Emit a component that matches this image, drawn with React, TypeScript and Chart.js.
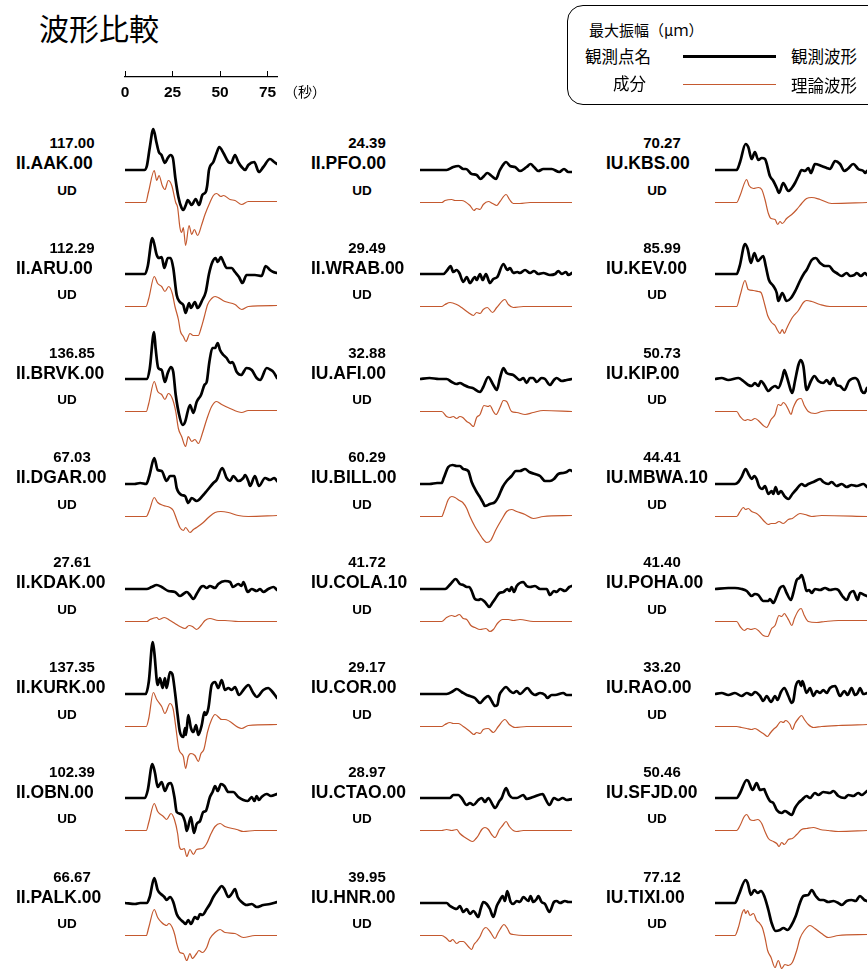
import React, { useEffect, useRef } from "react";
import { Chart, registerables } from "chart.js";

Chart.register(...registerables);

// ---------- text / table data ----------
const TITLE = "波形比較";
const LEGEND_AMP = "最大振幅（μｍ）";
const LEGEND_STATION = "観測点名";
const LEGEND_COMP = "成分";
const LEGEND_OBS = "観測波形";
const LEGEND_SYN = "理論波形";
const TIME_UNIT = "（秒）";
const SCALE_TICKS = [0, 25, 50, 75];
const TIME_MIN = 0;
const TIME_MAX = 80;
const COMPONENT = "UD";

const STATIONS = [
  "II.AAK.00", "II.ARU.00", "II.BRVK.00", "II.DGAR.00", "II.KDAK.00", "II.KURK.00", "II.OBN.00", "II.PALK.00",
  "II.PFO.00", "II.WRAB.00", "IU.AFI.00", "IU.BILL.00", "IU.COLA.10", "IU.COR.00", "IU.CTAO.00", "IU.HNR.00",
  "IU.KBS.00", "IU.KEV.00", "IU.KIP.00", "IU.MBWA.10", "IU.POHA.00", "IU.RAO.00", "IU.SFJD.00", "IU.TIXI.00",
];
const MAX_AMP = [
  "117.00", "112.29", "136.85", "67.03", "27.61", "137.35", "102.39", "66.67",
  "24.39", "29.49", "32.88", "60.29", "41.72", "29.17", "28.97", "39.95",
  "70.27", "85.99", "50.73", "44.41", "41.40", "33.20", "50.46", "77.12",
];

// ---------- waveforms: [time (s), displacement (display units)] ----------
const AAK_OBS = [[0,0],[10.2,0],[11.5,4],[13,22],[14.9,41],[16.5,28],[17.8,18],[19.2,15],[21,7],[22.5,12],[23.9,15],[25.2,12],[26.5,-8],[28.1,-27],[29.8,-38],[30.7,-40],[32,-35],[33,-30],[35.1,-35],[37.2,-29],[39,-35],[40.7,-25],[42.5,-22],[43.3,-15],[44.2,0],[46.5,8],[48.2,17],[49.6,23],[51.8,17],[54.4,8],[55.8,7],[57.9,15],[59.6,8],[61.4,3],[63.2,0],[64.9,5],[68,8],[70.5,-2],[72.8,3],[76.3,11],[78.5,8],[80,6]];
const AAK_SYN = [[0,0],[10.9,0],[12.3,10],[15.4,32],[16.7,22],[17.9,27],[19.6,17],[21,13],[22.8,22],[24.6,17],[26.7,0],[27.7,-5],[28.9,-25],[29.8,-30],[30.7,-25],[31.9,-43],[33.7,-23],[35.1,-32],[36.5,-27],[38.2,-33],[40.4,-22],[42.1,-12],[44.7,0],[46.5,7],[48.2,9],[50.5,6],[51.8,7],[55.3,3],[57.9,2],[61.4,-2],[64.9,1],[80,1]];
const ARU_OBS = [[0,0],[10.5,0],[12,8],[14.4,36],[16.7,19],[17.9,16],[19.3,17],[20.7,6],[22.5,16],[24,16],[25.4,6],[27.2,-21],[28.9,-28],[30.7,-31],[31.9,-39],[33.7,-29],[34.7,-34],[36.8,-28],[38.2,-34],[40.7,-26],[42.5,-18],[44.2,0],[46,12],[47.7,16],[48.8,12],[50.5,17],[51.8,12],[53.5,6],[56.1,6],[57.9,2],[60,-3],[61.8,-9],[64,-1],[68.4,-1],[71.9,-2],[74,8],[76.3,4],[78.1,2],[80,1]];
const ARU_SYN = [[0,0],[11,0],[12.5,8],[15.4,30],[17.2,23],[19.3,20],[21,15],[23,20],[24.9,13],[26.3,0],[28.1,-13],[29.2,-25],[30.7,-30],[32.1,-35],[34.2,-27],[35.9,-29],[38.6,-29],[40,-22],[41.5,-12],[43.5,2],[45.6,8],[47.4,10],[52.6,5],[57.9,2],[61.4,-3],[64.9,0],[80,1]];
const BRVK_OBS = [[0,0],[11.4,0],[13,10],[15.3,47],[16.1,31],[17.5,11],[19.3,9],[21,-3],[22.5,6],[24.2,12],[25.4,7],[26.7,-16],[28.9,-39],[30.4,-46],[31.6,-43],[34.2,-26],[36,-34],[37.7,-23],[40,-16],[41.8,-6],[43,-3],[44.4,17],[46,31],[47.4,31],[48.8,36],[50,29],[51.8,24],[53.5,21],[55.3,16],[56.5,17],[58.8,7],[61.1,4],[64,11],[66.7,9],[69.3,1],[71.1,-1],[74.6,11],[76.8,9],[78.1,7],[80,1]];
const BRVK_SYN = [[0,0],[11.2,0],[12.5,8],[15.4,30],[17.2,20],[19.3,17],[21,12],[22.8,18],[24.9,13],[26.7,0],[28.1,-17],[29.8,-25],[31.9,-35],[33.3,-25],[35.1,-30],[36.8,-28],[38.6,-32],[40.7,-22],[43,-8],[45.6,5],[48.2,10],[50.9,7],[55.3,3],[61.4,-1],[64.9,1],[80,1]];
const DGAR_OBS = [[0,0],[5,0],[8,1],[11.2,0],[12.8,8],[15.4,26],[17.2,14],[19.3,13],[21.9,3],[23.7,8],[26,8],[27.2,-4],[29.8,-11],[31.6,-12],[33.3,-19],[35.1,-14],[37.7,-17],[41.2,-11],[43,-7],[46.5,1],[48.2,4],[51.2,16],[53.5,6],[55.3,3],[57,8],[59.6,3],[62.3,6],[63.2,9],[64.9,3],[65.8,-2],[68.4,8],[70.5,-2],[73.7,6],[76.3,4],[78.6,6],[80,3]];
const DGAR_SYN = [[0,0],[11.2,0],[12.8,6],[15.4,19],[17.2,14],[20.2,11],[23.7,9],[25.4,6],[27.2,-3],[28.9,-11],[30.7,-14],[31.9,-11],[34.2,-16],[36,-13],[37.7,-11],[41.2,-6],[43.9,-1],[47.4,4],[50.5,5],[54.4,4],[59.6,1],[64.9,0],[80,1]];
const KDAK_OBS = [[0,0],[11.4,0],[14,2],[16.7,4],[19.3,2],[22.8,-2],[26.3,-3],[28.9,-7],[30.7,-5],[32.5,-3],[34.2,-6],[36,-10],[37.7,-5],[40,2],[41.2,3],[43,1],[44.7,3],[47.4,1],[49.1,5],[52.6,8],[55.3,7],[56.8,2],[59.6,5],[61.4,3],[62.3,7],[64.6,-3],[66.7,0],[69.3,-2],[71.1,0],[72.8,-3],[75.4,0],[78.1,2],[80,-1]];
const KDAK_SYN = [[0,0],[11.4,0],[13.2,2],[16.7,4],[17.9,2],[20.7,4],[23.7,1],[26.3,-2],[28.9,-5],[31.6,-7],[33.7,-4],[35.5,-5],[37.7,-8],[40,-4],[42.1,1],[44.7,3],[49.1,1],[52.6,1],[59.6,0],[80,0]];
const KURK_OBS = [[0,0],[10.9,0],[12.5,12],[14.6,52],[15.4,42],[17.2,9],[18.4,16],[19.8,6],[21,16],[21.9,6],[23.7,22],[24.9,20],[26.3,2],[27.7,-21],[28.9,-38],[30.7,-43],[31.6,-34],[32.1,-41],[33.3,-21],[34.7,-34],[36,-38],[37.4,-31],[38.6,-41],[40.4,-31],[41.8,-18],[42.5,-21],[43.9,-14],[45.6,9],[47.4,12],[49.1,6],[50.9,14],[52.6,4],[54.4,6],[56.1,4],[57.9,7],[60,-1],[62.3,4],[64.9,9],[67.5,1],[69.3,-3],[72.8,4],[75.4,6],[77.2,3],[80,-4]];
const KURK_SYN = [[0,0],[11.2,0],[12.5,8],[14.9,34],[16.7,27],[19.3,20],[21,13],[23.7,23],[25.4,17],[26.7,0],[28.4,-23],[30.7,-30],[31.9,-42],[33.3,-30],[34.7,-27],[36.8,-29],[38.6,-35],[40,-27],[41.5,-23],[43.5,-5],[45.6,7],[47.4,12],[50.9,7],[52.6,7],[61.4,-2],[64.9,1],[80,2]];
const OBN_OBS = [[0,0],[10.5,0],[12,8],[14.4,34],[15.8,25],[17.2,11],[19.3,16],[21,7],[22.8,14],[24.2,15],[26,1],[27.2,-14],[29.5,-16],[31.6,-24],[32.5,-33],[34.7,-19],[36.3,-35],[37.7,-26],[39.5,-23],[41.2,-14],[42.5,-13],[44.7,1],[46.1,6],[47.4,12],[48.8,7],[50.5,14],[52.3,12],[54.4,6],[57,6],[59.6,1],[62.3,-2],[64.6,-3],[66.7,1],[68.1,-3],[69.3,2],[70.5,-2],[71.9,1],[74.6,4],[76.8,2],[80,4]];
const OBN_SYN = [[0,0],[11.2,0],[12.5,8],[15.4,27],[17.2,19],[20.2,14],[21.9,11],[24.2,17],[26,11],[27.7,-3],[28.6,-16],[29.8,-19],[31.2,-18],[32.5,-26],[34.2,-19],[36,-24],[37.7,-19],[40.7,-18],[43,-13],[45.3,-3],[47.4,4],[50,7],[52.6,4],[58.8,1],[62.3,-1],[68.4,0],[80,0]];
const PALK_OBS = [[0,0],[5.3,-1],[8,0],[11.4,0],[13,6],[15.4,25],[17.2,13],[18.9,9],[20.7,6],[21.9,3],[23.7,6],[25.4,1],[27.2,-11],[28.9,-16],[30.7,-19],[31.9,-21],[33.3,-17],[34.7,-21],[36.8,-14],[38.2,-16],[39.5,-11],[40.7,-12],[43,-6],[44.7,-1],[46.5,6],[49.1,13],[50.9,17],[52.3,14],[54.4,6],[56.1,9],[57.9,14],[59.3,6],[61.4,1],[64,-2],[66.7,-1],[69.3,-4],[72.8,-2],[76.3,-1],[80,1]];
const PALK_SYN = [[0,0],[11.2,0],[12.5,8],[15.4,26],[17.2,18],[19.3,13],[21.9,10],[23.1,12],[24.9,8],[26.3,0],[27.2,-8],[28.9,-17],[30.7,-18],[32.5,-25],[34.2,-18],[35.4,-23],[37.7,-18],[38.9,-15],[40.7,-17],[43,-12],[44.7,-3],[47.4,3],[50,6],[52.6,3],[57.9,2],[62.3,-2],[68.4,0],[80,0]];

const PFO_OBS = [[0,0],[14,0],[17.5,3],[20.2,4],[22.8,1],[24.2,1],[27.2,-4],[29.8,-5],[31.9,-9],[33.7,-6],[35.4,-3],[37.7,-6],[40,-9],[41.8,-1],[43,3],[45.3,8],[47.4,4],[50,3],[52.6,-1],[56.1,3],[58.2,6],[60,3],[62.3,-1],[64.9,1],[69.3,1],[73.3,-2],[75.8,1],[78.1,-2],[80,-2]];
const PFO_SYN = [[0,0],[11.4,0],[13.2,2],[16.7,3],[18.4,2],[21.9,2],[26.3,-3],[28.4,-8],[29.8,-6],[31.6,-7],[33.3,-2],[36,1],[38.2,-1],[40.4,-3],[42.1,1],[45.3,8],[47.1,3],[49.1,-1],[52.6,-1],[57.9,0],[80,0]];
const WRAB_OBS = [[0,0],[12.3,0],[14.4,4],[16.1,8],[17.5,2],[19.3,4],[20.7,1],[22.8,-8],[24.6,-3],[26.3,-9],[28.9,-3],[29.8,-6],[31.6,0],[33,-6],[34.7,0],[36.8,-9],[38.6,-5],[40.7,-3],[43.9,10],[46,4],[47.4,6],[49.1,1],[51.2,2],[52.6,1],[55.3,4],[57.9,1],[60,3],[62.3,0],[64.9,1],[68.4,-1],[71.1,0],[72.8,3],[74.6,0],[76.8,2],[78.1,-1],[80,1]];
const WRAB_SYN = [[0,0],[11.4,0],[13.2,2],[15.8,4],[19.3,2],[21.9,-1],[25.4,-6],[28.1,-9],[29.8,-6],[31.6,-7],[33.3,-3],[35.4,-1],[38.2,-6],[40.4,-1],[44.7,7],[46.5,2],[49.1,-1],[54.4,0],[80,0]];
const AFI_OBS = [[0,0],[5,1],[10,0],[14,0],[16.7,-3],[19.3,-5],[21,-4],[23.1,-6],[25.4,-8],[27.7,-9],[31.6,-13],[33.3,-8],[35.9,2],[38.6,-6],[40.4,-11],[42.1,1],[43.9,11],[45.6,6],[49.1,4],[52.6,-1],[54.4,1],[56.1,-4],[57.9,1],[59.6,1],[61.4,-3],[64,1],[65.8,0],[68.4,-6],[70.5,-1],[71.9,1],[74.6,-2],[77.2,-1],[80,0]];
const AFI_SYN = [[0,0],[11.4,0],[14,-5],[15.8,-6],[17.5,-5],[19.3,-7],[21,-5],[22.5,-6],[24.6,-10],[26.3,-12],[28.1,-15],[29.8,-6],[31.6,-3],[33.7,6],[35.9,5],[36.8,6],[38.6,0],[40,-3],[42.1,4],[43.9,11],[45.6,10],[48.2,0],[50.9,-1],[55.3,-3],[59.6,-1],[64.9,1],[80,0]];
const BILL_OBS = [[0,0],[5,0],[9,1],[11.4,1],[12.5,6],[14.9,17],[17.2,19],[19.3,18],[21,18],[22.8,15],[25.4,13],[27.2,2],[29.5,-7],[31.2,-12],[33,-18],[34.2,-22],[36.8,-20],[39.5,-18],[41.2,-13],[43.5,-3],[45.6,3],[48.2,8],[50.5,13],[52.6,13],[55.3,15],[57.5,12],[60.5,10],[63.2,8],[65.8,3],[68.4,3],[70.5,5],[72.8,10],[75.4,11],[77.2,12],[78.9,14],[80,13]];
const BILL_SYN = [[0,0],[11.4,0],[12.8,6],[14.9,17],[16.7,20],[18.4,19],[20.7,16],[22.5,14],[24.6,8],[26.3,0],[28.9,-10],[31.2,-17],[33.3,-23],[35.1,-26],[37.2,-24],[40,-13],[43,-3],[45.6,5],[48.2,7],[50.9,5],[55.3,2],[59.6,-2],[64.9,0],[80,1]];
const COLA_OBS = [[0,0],[13.2,0],[16.1,5],[18.8,10],[21,5],[22.8,4],[24.6,2],[26,2],[27.2,-2],[28.9,-10],[30.7,-11],[31.9,-10],[34.2,-13],[36.5,-18],[37.7,-15],[39.5,-10],[41.8,-4],[43.9,-3],[46,0],[47.1,-2],[48.2,2],[49.5,-3],[50.9,3],[54.4,7],[56.1,3],[57.9,2],[60.5,3],[63.2,0],[66.7,0],[68.4,-6],[70.5,-2],[71.9,-3],[73.7,0],[76.3,-2],[78.6,2],[80,3]];
const COLA_SYN = [[0,0],[11.4,0],[14,4],[16.7,6],[18.4,5],[20.7,7],[22.8,3],[24.6,2],[26.8,-4],[28.9,-6],[31.6,-8],[34.7,-7],[36.8,-10],[38.6,-8],[40.7,-2],[43.5,2],[46.5,2],[49.1,1],[52.6,2],[59.6,0],[80,0]];
const COR_OBS = [[0,0],[14,0],[17.5,3],[19.3,5],[21.9,2],[24.6,-1],[26.3,-2],[28.9,-4],[31.6,-9],[33.7,-5],[35.9,-2],[37.7,-7],[39.5,-12],[40.7,-11],[41.8,-1],[43,3],[45.3,7],[47.4,3],[49.1,1],[50.9,3],[52.6,0],[56.5,6],[58.8,1],[60.5,-1],[63.2,1],[65.8,-1],[67,-4],[69.3,-1],[71.1,-1],[75.4,1],[77.2,-1],[80,-1]];
const COR_SYN = [[0,0],[11.4,0],[13.2,2],[15.8,4],[17.5,3],[20.2,3],[22.8,0],[26.3,-5],[28.4,-8],[29.8,-6],[31.6,-7],[33.3,-3],[35.9,-2],[38.6,-6],[41.2,0],[44.7,7],[47,2],[50,-1],[56.1,0],[80,0]];
const CTAO_OBS = [[0,0],[15.8,0],[17.5,3],[20.2,3],[21.9,0],[24.6,-7],[26.3,-5],[28.1,-7],[30.7,-2],[32.5,0],[34.2,-4],[35.9,0],[38.6,-8],[39.5,-10],[41.8,-3],[43,0],[45.3,10],[47,3],[48.8,0],[50.9,0],[54.4,3],[56.1,-1],[59.6,1],[64.6,4],[65.8,0],[68.1,-7],[70.5,0],[72.8,-2],[75.1,0],[77.2,-2],[80,-1]];
const CTAO_SYN = [[0,0],[11.4,0],[14,1],[16.7,0],[19.3,1],[21,-3],[23.7,-7],[25.4,-9],[27.7,-11],[29.5,-8],[30.7,-5],[32.5,1],[34.2,3],[36,1],[37.7,-4],[39.5,-7],[41.8,1],[43.5,5],[45.3,9],[47,4],[49.1,0],[50.9,-1],[54.4,0],[80,0]];
const HNR_OBS = [[0,0],[14,0],[15.8,-3],[19.3,-6],[21,-3],[22.8,-9],[24.6,-6],[26.3,-11],[28.1,-8],[30.7,-14],[31.9,-6],[33.3,1],[35.1,-1],[36.8,-6],[38.6,-14],[40.4,-3],[41.8,2],[43.5,7],[44.7,2],[45.9,12],[47.7,1],[49.1,-1],[50.9,2],[52.6,1],[54.4,6],[57,2],[58.2,7],[59.6,1],[61.4,4],[62.3,7],[64,1],[65.8,-1],[68.1,-9],[70.5,1],[71.9,2],[73.7,0],[76.3,2],[78.1,1],[80,1]];
const HNR_SYN = [[0,0],[11.4,0],[14,-3],[15.8,-6],[17.2,-4],[19.3,-8],[21,-6],[22.8,-6],[25.4,-11],[27.2,-14],[28.4,-9],[29.8,-6],[31.6,-1],[33.3,6],[34.7,8],[36.8,4],[39.5,-3],[40.9,2],[42.1,6],[44.2,11],[46,7],[47.4,2],[49.1,1],[54.4,0],[80,0]];

const KBS_OBS = [[0,0],[11.4,0],[13.2,8],[16.1,26],[17.5,23],[19.3,11],[21,18],[22.8,10],[24.6,12],[26.3,11],[28.9,-6],[30.7,-11],[32.5,-18],[33.7,-23],[35.9,-13],[38.6,-21],[40.4,-18],[42.1,-13],[43.9,-6],[45.6,0],[47.4,-1],[49.1,2],[50.5,-3],[52.6,6],[56.1,4],[58.8,2],[60.5,1],[63.2,9],[65.8,6],[68.1,-1],[69.8,1],[72.8,6],[75.4,1],[78.1,-1],[79.1,-3],[80,-1]];
const KBS_SYN = [[0,0],[11.4,0],[13.2,7],[16.7,23],[17.9,17],[20.2,14],[22.8,15],[24.6,13],[26.3,3],[28.1,-11],[29.5,-16],[31.6,-17],[33,-22],[34.2,-19],[35.4,-21],[37.7,-16],[40.4,-12],[43,-7],[45.6,-1],[48.2,4],[50.9,5],[55.3,3],[61.4,-1],[80,0]];
const KEV_OBS = [[0,0],[11.4,0],[13,8],[15.8,30],[17.2,25],[18.9,11],[20.7,21],[22.5,13],[25.4,18],[26.7,8],[28.4,-6],[30.7,-12],[32.5,-19],[33.3,-27],[35.4,-19],[37.7,-27],[40,-24],[42.5,-16],[44.7,-7],[47,1],[48.2,4],[50.9,14],[53,16],[55.3,11],[57.9,8],[60,8],[62.3,3],[64,1],[66.7,-2],[69.3,1],[71.1,-2],[73.3,-1],[74.6,1],[76.8,-2],[78.9,1],[80,-1]];
const KEV_SYN = [[0,0],[11.4,0],[13.2,11],[15.8,26],[17.5,17],[20.2,16],[22.8,15],[24.2,14],[26.3,1],[27.7,-9],[29.8,-16],[31.6,-19],[33,-24],[34.2,-27],[35.4,-23],[36.5,-27],[37.7,-22],[40.7,-11],[43.9,-4],[46.5,4],[48.2,6],[50.9,5],[55.3,2],[60.5,0],[80,0]];
const KIP_OBS = [[0,0],[3.5,1],[7,-1],[12.3,1],[14.9,-2],[17.5,-6],[19.3,-7],[21,-4],[22.8,-7],[24.2,-2],[26,-6],[28.1,-12],[29.8,-9],[31.6,-7],[33.3,-9],[35.4,1],[36.5,9],[37.7,3],[40,-12],[40.7,-14],[42.1,-2],[43.9,14],[45.1,19],[46.5,13],[48.2,-11],[50.5,-2],[52.3,3],[54.4,-2],[57,-4],[58.8,-1],[60.5,-5],[62.3,1],[64,-6],[65.8,-7],[68.1,-11],[70.5,-2],[73.7,1],[75.4,-2],[77.2,-12],[78.6,-14],[80,-9]];
const KIP_SYN = [[0,0],[11.4,0],[13.2,-5],[15.8,-9],[17.2,-8],[18.9,-9],[21,-7],[22.8,-9],[25.4,-14],[27.2,-16],[29.5,-8],[31.6,-3],[33.3,7],[34.7,6],[35.9,9],[37.2,7],[38.6,2],[40,-3],[41.2,4],[43.5,12],[45.3,13],[47,6],[49.1,0],[52.6,-2],[56.1,0],[61.4,1],[80,1]];
const MBWA_OBS = [[0,0],[10.5,0],[12.3,2],[14,7],[16.1,15],[17.9,9],[19.3,5],[20.7,8],[21.9,5],[23.1,-2],[24.9,-5],[26.3,-2],[28.1,-10],[29.8,-7],[30.7,-10],[31.9,-3],[33.3,-10],[34.7,-7],[36.5,-12],[38.6,-15],[40.7,-10],[43,-5],[45.6,0],[47.4,-2],[49.1,0],[51.8,2],[55.3,5],[57,2],[59.6,0],[61.4,2],[64,-2],[66.7,0],[69.3,-3],[71.9,-1],[74.6,-2],[78.1,0],[80,-3]];
const MBWA_SYN = [[0,0],[11.4,0],[13.2,5],[14.9,9],[16.1,7],[17.5,8],[19.3,5],[21.9,3],[23.7,0],[26,-5],[28.1,-8],[29.5,-7],[31.6,-7],[33.7,-5],[35.9,-7],[38.6,-3],[40.7,-2],[44.7,3],[47.4,2],[50.9,0],[56.1,1],[80,0]];
const POHA_OBS = [[0,0],[7,1],[10.5,1],[14,0],[16.7,-2],[19.3,-7],[21,-5],[22.8,-6],[25.4,-12],[28.1,-12],[28.9,-10],[30.7,-14],[32.5,-7],[34.2,1],[35.9,3],[37.7,-4],[40,-11],[41.2,-4],[43,9],[44.4,11],[45.6,14],[47,6],[48.2,-2],[49.5,-1],[50.9,-4],[52.6,0],[55.3,-1],[57.9,1],[60.5,-1],[63.2,0],[64.9,-1],[67,-7],[69.3,-11],[71.1,-4],[72.8,-2],[75.1,-11],[76.3,-4],[78.6,-6],[80,-7]];
const POHA_SYN = [[0,0],[11.4,0],[13.2,-5],[15.4,-9],[17.2,-7],[18.9,-8],[21,-7],[22.8,-9],[25.4,-14],[27.7,-15],[29.8,-7],[31.6,-4],[33.7,6],[35.1,5],[36.5,8],[37.7,5],[38.9,1],[40.4,-4],[41.8,3],[43.9,11],[45.3,13],[47,6],[49.1,0],[53.5,-1],[57.9,0],[64.9,1],[80,1]];
const RAO_OBS = [[0,0],[3.5,1],[7,-1],[10.5,1],[14,-2],[16.7,1],[19.3,-1],[21,2],[23.7,-2],[25.4,-7],[27.2,-2],[29.5,-8],[31.6,-2],[32.9,-6],[34.7,2],[36.5,6],[38.6,-2],[40.4,-9],[41.2,-7],[42.5,8],[44.2,13],[45.3,8],[46,13],[48.2,1],[50,6],[51.8,-2],[53.5,3],[55.3,1],[57,4],[58.8,1],[60.5,6],[63.2,8],[65.8,-2],[68.1,3],[69.8,-1],[71.9,6],[73.7,-1],[75.1,1],[76.3,6],[78.1,0],[80,1]];
const RAO_SYN = [[0,0],[11.4,0],[14,-1],[16.7,-2],[19.3,-3],[21,-2],[23.7,-5],[25.4,-7],[27.7,-10],[28.9,-7],[30.7,-3],[32.5,0],[34.7,5],[35.9,4],[37.2,6],[39.5,2],[40.7,-3],[42.1,3],[43.9,8],[45.6,11],[47,7],[49.1,2],[51.8,-1],[56.1,0],[64.9,1],[80,2]];
const SFJD_OBS = [[0,0],[11.4,0],[13.2,5],[16.7,18],[17.5,17],[19.8,8],[21.9,15],[23.7,8],[25.9,9],[26.3,7],[28.9,-3],[30.7,-5],[32.5,-12],[35.1,-15],[36.8,-13],[38.6,-15],[40.4,-17],[42.1,-10],[43.9,-5],[45.6,-2],[48.2,2],[50,0],[52.6,5],[54.4,3],[57,6],[60.5,5],[62.3,7],[64.9,2],[68.1,0],[70.2,3],[72.8,2],[75.4,5],[77.2,3],[80,7]];
const SFJD_SYN = [[0,0],[11.4,0],[13.2,5],[15.4,14],[16.7,16],[18.4,11],[20.2,10],[22.5,11],[24.6,7],[26.3,-1],[28.1,-8],[30.7,-11],[32.5,-13],[33.7,-16],[35.1,-12],[36.5,-14],[38.6,-9],[40.7,-8],[43,-4],[45.6,1],[48.2,2],[51.8,3],[55.3,1],[59.6,0],[64.9,-1],[80,0]];
const TIXI_OBS = [[0,0],[10.5,0],[12.5,8],[16.1,23],[17.2,20],[18.9,8],[20.7,13],[22.5,10],[24.2,12],[25.9,7],[28.1,-7],[29.8,-20],[31.9,-28],[34.2,-27],[36,-25],[38.2,-27],[40,-23],[42.5,-13],[44.7,0],[46.5,7],[49.1,8],[50.9,13],[53,7],[55.3,3],[57,3],[59.6,1],[62.3,2],[64.9,0],[66.7,-2],[69.3,2],[71.9,3],[74,2],[76.3,7],[78.6,3],[80,2]];
const TIXI_SYN = [[0,0],[10.5,0],[12.3,8],[14.4,23],[15.4,26],[16.1,22],[17.2,25],[18.4,20],[20.2,22],[21.9,15],[23.1,13],[24.9,8],[26.3,-2],[27.7,-15],[29.5,-22],[31.6,-32],[33.3,-25],[35.1,-33],[36.8,-29],[38.6,-30],[40.7,-27],[43,-15],[44.7,-3],[47,5],[50,10],[52.6,7],[56.1,2],[59.6,-2],[64.9,0],[80,1]];

const OBS_TRACES = [
  AAK_OBS, ARU_OBS, BRVK_OBS, DGAR_OBS, KDAK_OBS, KURK_OBS, OBN_OBS, PALK_OBS,
  PFO_OBS, WRAB_OBS, AFI_OBS, BILL_OBS, COLA_OBS, COR_OBS, CTAO_OBS, HNR_OBS,
  KBS_OBS, KEV_OBS, KIP_OBS, MBWA_OBS, POHA_OBS, RAO_OBS, SFJD_OBS, TIXI_OBS,
];
const SYN_TRACES = [
  AAK_SYN, ARU_SYN, BRVK_SYN, DGAR_SYN, KDAK_SYN, KURK_SYN, OBN_SYN, PALK_SYN,
  PFO_SYN, WRAB_SYN, AFI_SYN, BILL_SYN, COLA_SYN, COR_SYN, CTAO_SYN, HNR_SYN,
  KBS_SYN, KEV_SYN, KIP_SYN, MBWA_SYN, POHA_SYN, RAO_SYN, SFJD_SYN, TIXI_SYN,
];

// ---------- layout / style ----------
const ROWS = 8;
const COL_X = [125, 420, 715];
const COL_STEP = 295;
const ROW_BASE0 = 169.5;
const ROW_STEP = 104.8;
const PLOT_W = 152;
const PAD_X = 4;
const ABOVE = 60;
const BELOW = 80;
const SYN_OFFSET = 32.5;
const RED = "#c4592f";
const LATIN = "'Liberation Sans', Arial, sans-serif";
const CJK = "'Noto Sans CJK JP', 'Noto Sans', sans-serif";

function Panel({ obs, syn, left, base }: { obs: number[][]; syn: number[][]; left: number; base: number }) {
  const ref = useRef<HTMLCanvasElement>(null);
  useEffect(() => {
    const chart = new Chart(ref.current!, {
      type: "line",
      data: {
        datasets: [
          {
            data: obs.map(([x, y]) => ({ x, y })),
            borderColor: "#000",
            borderWidth: 2.7,
            pointRadius: 0,
            yAxisID: "y",
            cubicInterpolationMode: "monotone",
            borderJoinStyle: "round",
            borderCapStyle: "round",
          },
          {
            data: syn.map(([x, y]) => ({ x, y })),
            borderColor: RED,
            borderWidth: 1.2,
            pointRadius: 0,
            yAxisID: "y2",
            cubicInterpolationMode: "monotone",
            borderJoinStyle: "round",
          },
        ],
      },
      options: {
        animation: false,
        responsive: false,
        events: [],
        layout: { padding: { left: PAD_X, right: PAD_X, top: 0, bottom: 0 } },
        plugins: { legend: { display: false }, tooltip: { enabled: false } },
        scales: {
          x: { type: "linear", min: TIME_MIN, max: TIME_MAX, display: false },
          y: { type: "linear", min: -BELOW, max: ABOVE, display: false },
          y2: { type: "linear", min: -BELOW + SYN_OFFSET, max: ABOVE + SYN_OFFSET, display: false },
        },
      },
    } as any);
    return () => chart.destroy();
  }, []);
  return (
    <canvas
      ref={ref}
      width={PLOT_W + 2 * PAD_X}
      height={ABOVE + BELOW}
      style={{ position: "absolute", left: left - PAD_X, top: base - ABOVE }}
    />
  );
}

function ScaleBar() {
  const ref = useRef<HTMLCanvasElement>(null);
  useEffect(() => {
    const chart = new Chart(ref.current!, {
      type: "line",
      data: { datasets: [{ data: [], yAxisID: "y" }] },
      options: {
        animation: false,
        responsive: false,
        events: [],
        layout: { padding: { left: 20, right: 20, top: 0, bottom: 0 } },
        plugins: { legend: { display: false }, tooltip: { enabled: false } },
        scales: {
          x: {
            type: "linear",
            min: TIME_MIN,
            max: TIME_MAX,
            position: "bottom",
            afterBuildTicks: (s: any) => {
              s.ticks = SCALE_TICKS.map((v) => ({ value: v }));
            },
            afterFit: (s: any) => {
              s.height = 28;
            },
            grid: { drawOnChartArea: true, drawTicks: false, color: "#000", lineWidth: 1 },
            border: { display: true, color: "#000", width: 1.2 },
            ticks: { color: "#000", padding: 6, font: { family: LATIN, size: 15.5, weight: "bold" }, maxRotation: 0 },
          },
          y: { display: false, min: 0, max: 1 },
        },
      },
    } as any);
    return () => chart.destroy();
  }, []);
  return <canvas ref={ref} width={192} height={34} style={{ position: "absolute", left: 105, top: 71 }} />;
}

function Txt({ x, y, children, size, bold, family, center }: any) {
  return (
    <div
      style={{
        position: "absolute",
        left: x,
        top: y,
        transform: center ? "translate(-50%, -50%)" : "translate(0, -50%)",
        fontFamily: family || LATIN,
        fontSize: size,
        fontWeight: bold ? 700 : 400,
        lineHeight: 1,
        whiteSpace: "nowrap",
        color: "#000",
      }}
    >
      {children}
    </div>
  );
}

export default function App() {
  const panels = [];
  const labels = [];
  for (let i = 0; i < STATIONS.length; i++) {
    const c = Math.floor(i / ROWS);
    const r = i % ROWS;
    const base = ROW_BASE0 + r * ROW_STEP;
    panels.push(<Panel key={"p" + i} obs={OBS_TRACES[i]} syn={SYN_TRACES[i]} left={COL_X[c]} base={base} />);
    labels.push(
      <Txt key={"a" + i} x={72 + c * COL_STEP} y={base - 27.5} size={15} bold center>{MAX_AMP[i]}</Txt>,
      <Txt key={"n" + i} x={16 + c * COL_STEP} y={base - 5.5} size={17.5} bold>{STATIONS[i]}</Txt>,
      <Txt key={"u" + i} x={67 + c * COL_STEP} y={base + 21} size={13.5} bold center>{COMPONENT}</Txt>
    );
  }
  return (
    <div style={{ position: "fixed", left: 0, top: 0, width: 868, height: 969, overflow: "hidden", background: "#fff" }}>
      <Txt x={39} y={27} size={30} family={CJK}>{TITLE}</Txt>
      <ScaleBar />
      <Txt x={284} y={91} size={14} family={CJK}>{TIME_UNIT}</Txt>
      <div
        style={{
          position: "absolute",
          left: 567,
          top: 5,
          width: 330,
          height: 100,
          border: "1px solid #000",
          borderRadius: 16,
          boxSizing: "border-box",
        }}
      />
      <Txt x={589} y={29} size={15} family={CJK}>{LEGEND_AMP}</Txt>
      <Txt x={585} y={56} size={16.5} family={CJK}>{LEGEND_STATION}</Txt>
      <Txt x={613} y={83} size={16.5} family={CJK}>{LEGEND_COMP}</Txt>
      <div style={{ position: "absolute", left: 683, top: 55, width: 93, height: 2.5, background: "#000" }} />
      <div style={{ position: "absolute", left: 683, top: 83.5, width: 93, height: 1.2, background: RED }} />
      <Txt x={791} y={56} size={16.5} family={CJK}>{LEGEND_OBS}</Txt>
      <Txt x={791} y={85} size={16.5} family={CJK}>{LEGEND_SYN}</Txt>
      {panels}
      {labels}
    </div>
  );
}
